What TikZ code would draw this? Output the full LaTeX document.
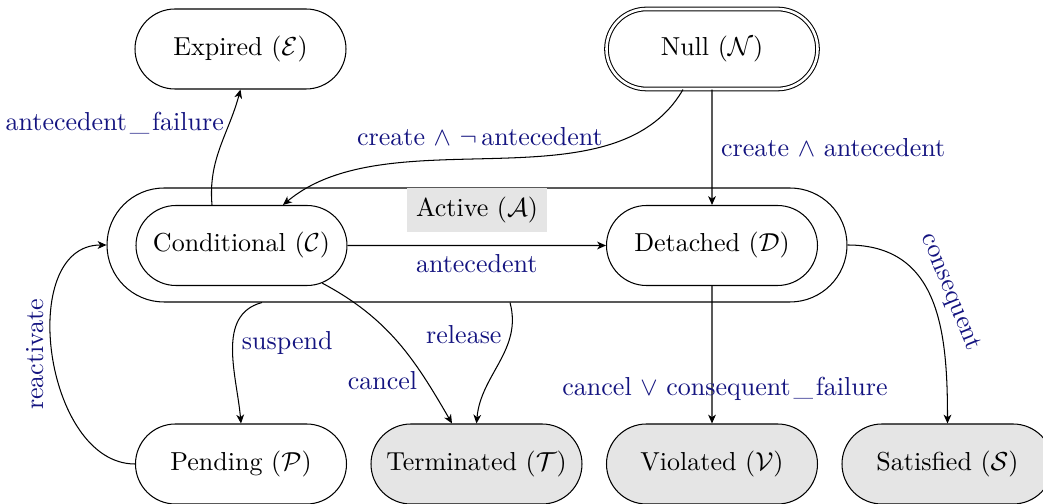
\documentclass[tikz,border=0pt]{standalone}
\usetikzlibrary{shapes.misc,arrows.meta,calc}
\definecolor{lblcol}{RGB}{20,20,128}
\begin{document}
\begin{tikzpicture}[x=0.3846pt,y=-0.3846pt,
  state/.style={rounded rectangle, draw, minimum width=81.15pt, minimum height=30.77pt, inner sep=0pt},
  final/.style={state, fill=black!10},
  lbl/.style={text=lblcol},
  trans/.style={->, >={Stealth[length=3.4pt,width=3pt,inset=1pt]}},
]
\useasboundingbox (0,0) rectangle (1043,504);
\node[rounded rectangle, draw, inner sep=0pt, minimum width=284.6pt, minimum height=43.84pt] (A) at (477,245) {};
\node[fill=black!10] (AL) at (477,210) {Active ($\mathcal{A}$)};
\node[state] (E) at (240.5,49) {Expired ($\mathcal{E}$)};
\node[state, double, double distance=1pt] (N) at (712,49) {Null ($\mathcal{N}$)};
\node[state] (C) at (241.5,245.5) {Conditional ($\mathcal{C}$)};
\node[state] (D) at (712,245.5) {Detached ($\mathcal{D}$)};
\node[state] (P) at (241,464) {Pending ($\mathcal{P}$)};
\node[final] (T) at (476.5,464) {Terminated ($\mathcal{T}$)};
\node[final] (V) at (712,464) {Violated ($\mathcal{V}$)};
\node[final] (S) at (947.5,464) {Satisfied ($\mathcal{S}$)};

\draw[trans] (N) -- node[lbl, right] {create $\wedge$ antecedent} (D);
\draw[trans] (C) -- node[lbl, below] {antecedent} (D);
\draw[trans] (D) -- node[lbl, pos=0.75, xshift=5pt] {cancel $\vee$ consequent\kern1.1pt\_\kern1.1pt failure} (V);
\draw[trans] ($(N.south)+(-29,0)$) to[out=-120, in=40, looseness=0.85]
  node[lbl, above, pos=0.5, xshift=-6.5pt, yshift=1.5pt] {create $\wedge$ $\neg\,$antecedent} ($(C.north)+(41.5,0)$);
\draw[trans] ($(C.north)+(-29.5,0)$) to[out=95, in=-105] node[lbl, left, pos=0.72, xshift=1.5pt] {antecedent\kern1.1pt\_\kern1.1pt failure} (E.south);
\draw[trans] (A.east) to[out=0, in=90, looseness=1.15] node[lbl, sloped, above, pos=0.5] {consequent} (S.north);
\draw[trans] (P.west) to[out=180, in=180, looseness=1.05] node[lbl, rotate=90, anchor=south, pos=0.5] {reactivate} (A.west);
\draw[trans] ($(A.south)+(-215,0)$) to[out=195, in=95] node[lbl, right, pos=0.45] {suspend} (P.north);
\draw[trans] (C.-25) to[out=-28, in=120] node[lbl, left, pos=0.76] {cancel} ($(T.north)+(-24.5,0)$);
\draw[trans] ($(A.south)+(33,0)$) to[out=-75, in=85] node[lbl, left, pos=0.25] {release} (T.north);
\end{tikzpicture}
\end{document}
